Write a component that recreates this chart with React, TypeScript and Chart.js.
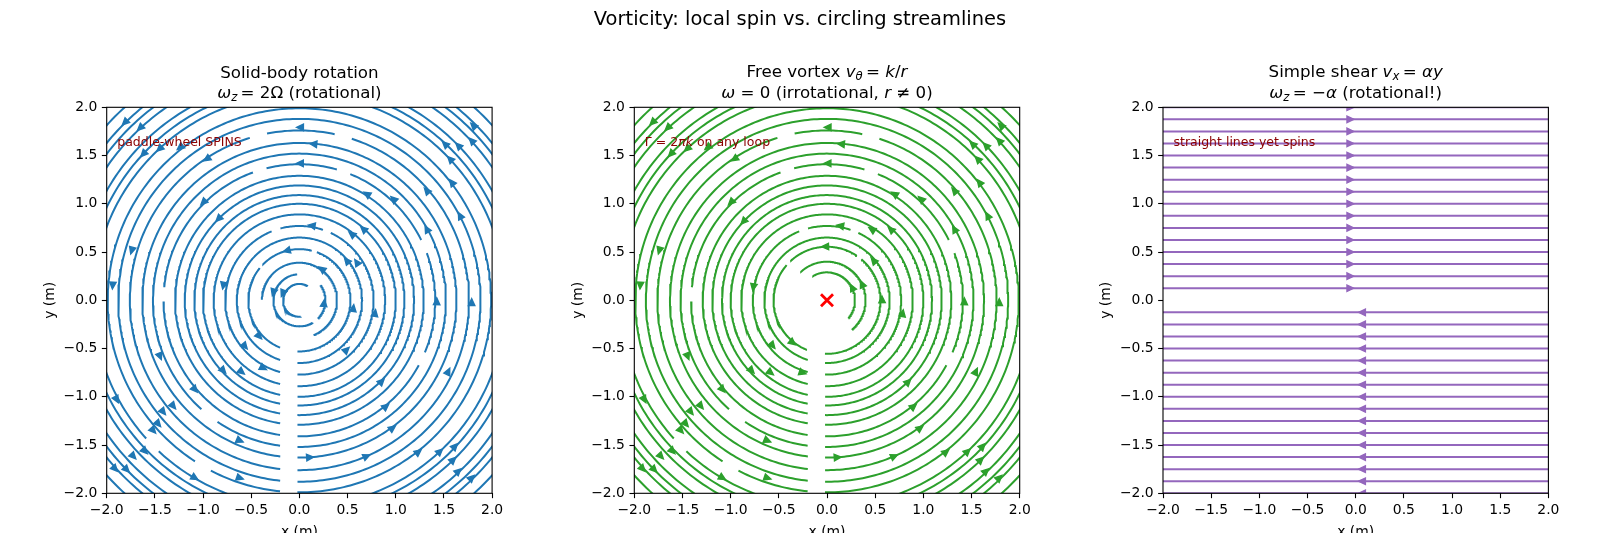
import { useEffect, useRef } from 'react';
import { Chart, registerables } from 'chart.js';
Chart.register(...registerables);

const FIG_W = 1600;
const FIG_H = 533;
const SUPTITLE = 'Vorticity: local spin vs. circling streamlines';
const X_LABEL = 'x (m)';
const Y_LABEL = 'y (m)';

// ---------- circular streamline arcs shared by panels 1 and 2 (radius, from deg, to deg; CCW) ----------
const ringR = [0.65, 0.77, 0.77, 0.77, 0.89, 1.0, 1.09, 1.19, 1.29, 1.41, 1.41, 1.41, 1.41, 1.41, 1.41, 1.52, 1.52, 1.63, 1.76, 1.76, 1.76, 1.88, 1.99, 1.99, 2.14, 2.14, 2.22, 2.3, 2.43, 2.51, 2.58, 2.7];
const ringFrom = [-91.8, -91.5, 71.5, 112, -91.3, -91.1, -91.05, -91, -90.9, -90.8, -22.5, 26.3, 74, 110, 180.5, -90.75, 236, -90.7, -90.65, 78, 107, -90.6, -90.6, 242.5, 0, 227, 0, 0, 0, 0, 0, 0];
const ringTo = [252.1, 65, 104.8, 254.9, 257, 258.5, 259.4, 260.3, 261.1, -28.5, 20.3, 68, 104, 174.5, 261.8, 228, 262.4, 263, 72, 101, 263.5, 263.9, 237, 264.2, 222, 360, 360, 360, 360, 360, 360, 360];

// ---------- Panel 1: solid-body rotation ----------
const solidInnerR = [0.17, 0.27, 0.27, 0.39, 0.53, 0.53, 0.53];
const solidInnerFrom = [60, -45, 95, -68, -92.2, 76, 141];
const solidInnerTo = [275, 35, 300, 179, 70, 135, 247.8];
const solidArrowR = [0.188, 0.257, 0.283, 0.398, 0.531, 0.559, 0.565, 0.64, 0.709, 0.713, 0.739, 0.784, 0.795, 0.796, 0.804, 0.875, 0.954, 0.993, 1.074, 1.191, 1.198];
const solidArrowDeg = [157.5, -6.3, 163, 54.5, 104.4, -138.1, -8.1, 39.9, -46.2, 33.5, -139.8, 80.7, -118, -9.5, 169.1, 51.7, -128.9, 48.1, -137.3, 134.9, -44.5];

// ---------- Panel 2: free vortex ----------
const vortexInnerR = [0.29, 0.4, 0.555, 0.555, 0.555];
const vortexInnerFrom = [-40, -50, -92.2, 56, 139];
const vortexInnerTo = [120, 133, 50, 133, 247.8];
const vortexArrowR = [0.292, 0.4, 0.557, 0.571, 0.565, 0.635, 0.734, 0.776, 0.783, 0.791, 0.797, 0.869, 0.951, 0.989, 1.069, 1.191, 1.193];
const vortexArrowDeg = [27, 25, 92, 1, -129, 40.5, -140.2, 170, 80, -108.6, -9.7, 57.7, -127.9, 48, -137, 136.8, -45];
const vortexMarkX = [0];
const vortexMarkY = [0];

// outer arrows shared by panels 1 and 2
const outerArrowR = [1.304, 1.419, 1.42, 1.423, 1.425, 1.425, 1.433, 1.514, 1.559, 1.58, 1.626, 1.631, 1.639, 1.708, 1.712, 1.742, 1.752, 1.761, 1.788, 1.792, 1.815, 1.826, 1.884, 1.942, 1.944, 1.946, 1.998, 1.999, 2.012, 2.03, 2.136, 2.138, 2.14, 2.142, 2.158, 2.213, 2.215, 2.219, 2.24, 2.298, 2.3, 2.363, 2.421, 2.434, 2.436, 2.508, 2.556, 2.566, 2.584, 2.59];
const outerArrowDeg = [57.6, 89.8, -50.7, 134.5, -0.4, -139.5, 47.1, 29.2, -158.1, -113, 84.9, -86.1, -53.8, -140, -25.5, 40.7, 123.3, -66.6, -0.6, 89.8, 163.5, -140.7, 27.8, -108.5, 175.5, -138.8, 37.7, -51.8, 128, -138.3, -120.5, 132.8, -47, 43.1, -151.5, -43.1, 47, 136.9, -135.7, -46, 44.2, -136.8, -47, 132.8, 42.8, -135.6, 45.1, -45.8, 134.5, -137.6];

// ---------- Panel 3: simple shear ----------
const shearLineY = [2, 1.875, 1.75, 1.625, 1.5, 1.375, 1.25, 1.125, 1, 0.875, 0.75, 0.625, 0.5, 0.375, 0.25, 0.125, -0.125, -0.25, -0.375, -0.5, -0.625, -0.75, -0.875, -1, -1.125, -1.25, -1.375, -1.5, -1.625, -1.75, -1.875, -2];
const shearArrowTipX = [-0.02, -0.02, -0.02, -0.02, -0.02, -0.02, -0.02, -0.02, -0.02, -0.02, -0.02, -0.02, -0.02, -0.02, -0.02, -0.02, 0.03, 0.03, 0.03, 0.03, 0.03, 0.03, 0.03, 0.03, 0.03, 0.03, 0.03, 0.03, 0.03, 0.03, 0.03, 0.03];
const shearArrowDir = [1, 1, 1, 1, 1, 1, 1, 1, 1, 1, 1, 1, 1, 1, 1, 1, -1, -1, -1, -1, -1, -1, -1, -1, -1, -1, -1, -1, -1, -1, -1, -1];

type Run = { t: string; it?: boolean; sub?: boolean };

const FONT = '"DejaVu Sans", "Liberation Sans", sans-serif';
const TICK_FS = 13.9;
const TITLE_FS = 16.67;
const SUP_FS = 19.44;
const NOTE_FS = 12.5;

function drawRich(ctx: CanvasRenderingContext2D, runs: Run[], x: number, baseline: number, size: number, color: string, align: 'center' | 'left') {
  const fontOf = (r: Run) => `${r.it ? 'italic ' : ''}${r.sub ? size * 0.7 : size}px ${FONT}`;
  let total = 0;
  const widths = runs.map((r) => {
    ctx.font = fontOf(r);
    const w = ctx.measureText(r.t).width;
    total += w;
    return w;
  });
  let cx = align === 'center' ? x - total / 2 : x;
  ctx.fillStyle = color;
  ctx.textAlign = 'left';
  ctx.textBaseline = 'alphabetic';
  runs.forEach((r, i) => {
    ctx.font = fontOf(r);
    ctx.fillText(r.t, cx, baseline + (r.sub ? size * 0.2 : 0));
    cx += widths[i];
  });
}

type Panel = {
  left: number;
  right: number;
  color: string;
  kind: 'circle' | 'shear';
  segR?: number[];
  segFrom?: number[];
  segTo?: number[];
  arrowR?: number[];
  arrowDeg?: number[];
  title1: Run[];
  title2: Run[];
  t1y: number;
  t2y: number;
  note: Run[];
  mark?: boolean;
  ylabelX: number;
  suptitle?: boolean;
};

const TOP = 107.3;
const BOTTOM = 493.3;

const PANELS: Panel[] = [
  {
    left: 106.7, right: 492.1, color: '#1f77b4', kind: 'circle',
    segR: [...solidInnerR, ...ringR], segFrom: [...solidInnerFrom, ...ringFrom], segTo: [...solidInnerTo, ...ringTo],
    arrowR: [...solidArrowR, ...outerArrowR], arrowDeg: [...solidArrowDeg, ...outerArrowDeg],
    title1: [{ t: 'Solid-body rotation' }],
    title2: [{ t: 'ω', it: true }, { t: 'z', it: true, sub: true }, { t: '\u2009= 2Ω (rotational)' }],
    t1y: 77.5, t2y: 97.5,
    note: [{ t: 'paddle-wheel SPINS' }],
    ylabelX: 54, suptitle: true,
  },
  {
    left: 634.3, right: 1019.7, color: '#2ca02c', kind: 'circle',
    segR: [...vortexInnerR, ...ringR], segFrom: [...vortexInnerFrom, ...ringFrom], segTo: [...vortexInnerTo, ...ringTo],
    arrowR: [...vortexArrowR, ...outerArrowR], arrowDeg: [...vortexArrowDeg, ...outerArrowDeg],
    title1: [{ t: 'Free vortex ' }, { t: 'v', it: true }, { t: 'θ', it: true, sub: true }, { t: '\u2009= ' }, { t: 'k', it: true }, { t: '/' }, { t: 'r', it: true }],
    title2: [{ t: 'ω', it: true }, { t: ' = 0 (irrotational, ' }, { t: 'r', it: true }, { t: ' ≠ 0)' }],
    t1y: 76.5, t2y: 97.5,
    note: [{ t: 'Γ = 2' }, { t: 'πk', it: true }, { t: ' on any loop' }],
    mark: true,
    ylabelX: 581.6,
  },
  {
    left: 1163, right: 1548.4, color: '#9467bd', kind: 'shear',
    title1: [{ t: 'Simple shear ' }, { t: 'v', it: true }, { t: 'x', it: true, sub: true }, { t: '\u2009= ' }, { t: 'αy', it: true }],
    title2: [{ t: 'ω', it: true }, { t: 'z', it: true, sub: true }, { t: '\u2009= \u2212' }, { t: 'α', it: true }, { t: ' (rotational!)' }],
    t1y: 76.5, t2y: 97.5,
    note: [{ t: 'straight lines yet spins' }],
    ylabelX: 1110,
  },
];

function arcPoints(r: number, a0: number, a1: number) {
  const pts: { x: number; y: number }[] = [];
  const n = Math.max(2, Math.ceil(Math.abs(a1 - a0)));
  for (let i = 0; i <= n; i++) {
    const a = ((a0 + ((a1 - a0) * i) / n) * Math.PI) / 180;
    pts.push({ x: r * Math.cos(a), y: r * Math.sin(a) });
  }
  return pts;
}

function tickFmt(v: number | string) {
  const n = Number(v);
  const s = Math.abs(n).toFixed(1);
  return n < 0 ? '\u2212' + s : s;
}

function drawArrow(ctx: CanvasRenderingContext2D, cx: number, cy: number, dx: number, dy: number, color: string) {
  const len = Math.hypot(dx, dy) || 1;
  const ux = dx / len;
  const uy = dy / len;
  const L = 6.8;
  const hw = 3.2;
  const tipX = cx + ux * L * 0.5;
  const tipY = cy + uy * L * 0.5;
  const bx = cx - ux * L * 0.5;
  const by = cy - uy * L * 0.5;
  ctx.beginPath();
  ctx.moveTo(tipX, tipY);
  ctx.lineTo(bx - uy * hw, by + ux * hw);
  ctx.lineTo(bx + uy * hw, by - ux * hw);
  ctx.closePath();
  ctx.fillStyle = color;
  ctx.strokeStyle = color;
  ctx.lineWidth = 1.4;
  ctx.lineJoin = 'miter';
  ctx.fill();
  ctx.stroke();
}

function buildChart(canvas: HTMLCanvasElement, p: Panel) {
  const datasets: any[] = [];
  if (p.kind === 'circle' && p.segR && p.segFrom && p.segTo) {
    for (let i = 0; i < p.segR.length; i++) {
      datasets.push({
        data: arcPoints(p.segR[i], p.segFrom[i], p.segTo[i]),
        showLine: true, borderColor: p.color, borderWidth: 2, pointRadius: 0, fill: false, clip: 0,
        borderCapStyle: 'butt',
      });
    }
  } else {
    shearLineY.forEach((y) => {
      datasets.push({
        data: [{ x: -2, y }, { x: 2, y }],
        showLine: true, borderColor: p.color, borderWidth: 2, pointRadius: 0, fill: false, clip: 0,
      });
    });
  }
  if (p.mark) {
    datasets.push({
      data: vortexMarkX.map((x, i) => ({ x, y: vortexMarkY[i] })),
      showLine: false, pointStyle: 'crossRot', pointRadius: 8.5, borderColor: '#ff0000', backgroundColor: '#ff0000',
      pointBorderWidth: 2.8, borderWidth: 2.8, order: -1, clip: false,
    });
  }

  const deco = {
    id: 'deco' + Math.round(p.left),
    afterDatasetsDraw(chart: any) {
      const { ctx, chartArea } = chart;
      const xs = chart.scales.x;
      const ys = chart.scales.y;
      ctx.save();
      ctx.beginPath();
      ctx.rect(chartArea.left, chartArea.top, chartArea.right - chartArea.left, chartArea.bottom - chartArea.top);
      ctx.clip();
      if (p.kind === 'circle' && p.arrowR && p.arrowDeg) {
        for (let i = 0; i < p.arrowR.length; i++) {
          const a = (p.arrowDeg[i] * Math.PI) / 180;
          const r = p.arrowR[i];
          const px = xs.getPixelForValue(r * Math.cos(a));
          const py = ys.getPixelForValue(r * Math.sin(a));
          const px2 = xs.getPixelForValue(r * Math.cos(a) - Math.sin(a) * 0.01);
          const py2 = ys.getPixelForValue(r * Math.sin(a) + Math.cos(a) * 0.01);
          drawArrow(ctx, px, py, px2 - px, py2 - py, p.color);
        }
      } else if (p.kind === 'shear') {
        shearLineY.forEach((y, i) => {
          const dir = shearArrowDir[i];
          const tx = xs.getPixelForValue(shearArrowTipX[i]);
          const ty = ys.getPixelForValue(y);
          drawArrow(ctx, tx - dir * 3.4, ty, dir, 0, p.color);
        });
      }
      ctx.restore();
      ctx.save();
      ctx.strokeStyle = '#000';
      ctx.lineWidth = 1.1;
      ctx.strokeRect(chartArea.left, chartArea.top, chartArea.right - chartArea.left, chartArea.bottom - chartArea.top);
      ctx.restore();
    },
    afterDraw(chart: any) {
      const { ctx, chartArea } = chart;
      ctx.save();
      const cx = (chartArea.left + chartArea.right) / 2;
      drawRich(ctx, p.title1, cx, p.t1y, TITLE_FS, '#000', 'center');
      drawRich(ctx, p.title2, cx, p.t2y, TITLE_FS, '#000', 'center');
      drawRich(ctx, p.note, chartArea.left + 10.5, 146, NOTE_FS, '#8b0000', 'left');
      ctx.font = `${TICK_FS}px ${FONT}`;
      ctx.fillStyle = '#000';
      ctx.textAlign = 'center';
      ctx.textBaseline = 'alphabetic';
      ctx.fillText(X_LABEL, cx, 535.5);
      ctx.save();
      ctx.translate(p.ylabelX, (chartArea.top + chartArea.bottom) / 2);
      ctx.rotate(-Math.PI / 2);
      ctx.fillText(Y_LABEL, 0, 0);
      ctx.restore();
      if (p.suptitle) {
        ctx.font = `${SUP_FS}px ${FONT}`;
        ctx.textAlign = 'center';
        ctx.fillText(SUPTITLE, 800, 24.5);
      }
      ctx.restore();
    },
  };

  const axisCommon = {
    type: 'linear',
    min: -2,
    max: 2,
    ticks: {
      stepSize: 0.5, autoSkip: false, maxRotation: 0, minRotation: 0, color: '#000',
      font: { family: FONT, size: TICK_FS }, callback: (v: any) => tickFmt(v),
    },
    grid: { display: true, drawOnChartArea: false, drawTicks: true, tickLength: 4.86, tickWidth: 1.1, tickColor: '#000' },
    border: { display: false },
  };

  return new Chart(canvas, {
    type: 'scatter',
    data: { datasets },
    plugins: [deco],
    options: {
      responsive: false,
      animation: false,
      events: [],
      layout: { padding: { left: p.left - 70, right: FIG_W - p.right, top: TOP, bottom: FIG_H - BOTTOM - 30 } },
      plugins: { legend: { display: false }, tooltip: { enabled: false }, title: { display: false } },
      scales: {
        x: { ...axisCommon, position: 'bottom', afterFit: (s: any) => { s.height = 30; }, ticks: { ...axisCommon.ticks, padding: 3.5 } },
        y: { ...axisCommon, position: 'left', afterFit: (s: any) => { s.width = 70; }, ticks: { ...axisCommon.ticks, padding: 4.5 } },
      },
    } as any,
  });
}

function PanelCanvas({ p }: { p: Panel }) {
  const ref = useRef<HTMLCanvasElement | null>(null);
  useEffect(() => {
    if (!ref.current) return;
    const c = buildChart(ref.current, p);
    return () => c.destroy();
  }, [p]);
  return <canvas ref={ref} width={FIG_W} height={FIG_H} style={{ position: 'absolute', left: 0, top: 0, width: FIG_W, height: FIG_H }} />;
}

export default function App() {
  return (
    <div style={{ position: 'fixed', left: 0, top: 0, width: FIG_W, height: FIG_H, background: '#fff', overflow: 'hidden' }}>
      {PANELS.map((p, i) => (
        <PanelCanvas key={i} p={p} />
      ))}
    </div>
  );
}
